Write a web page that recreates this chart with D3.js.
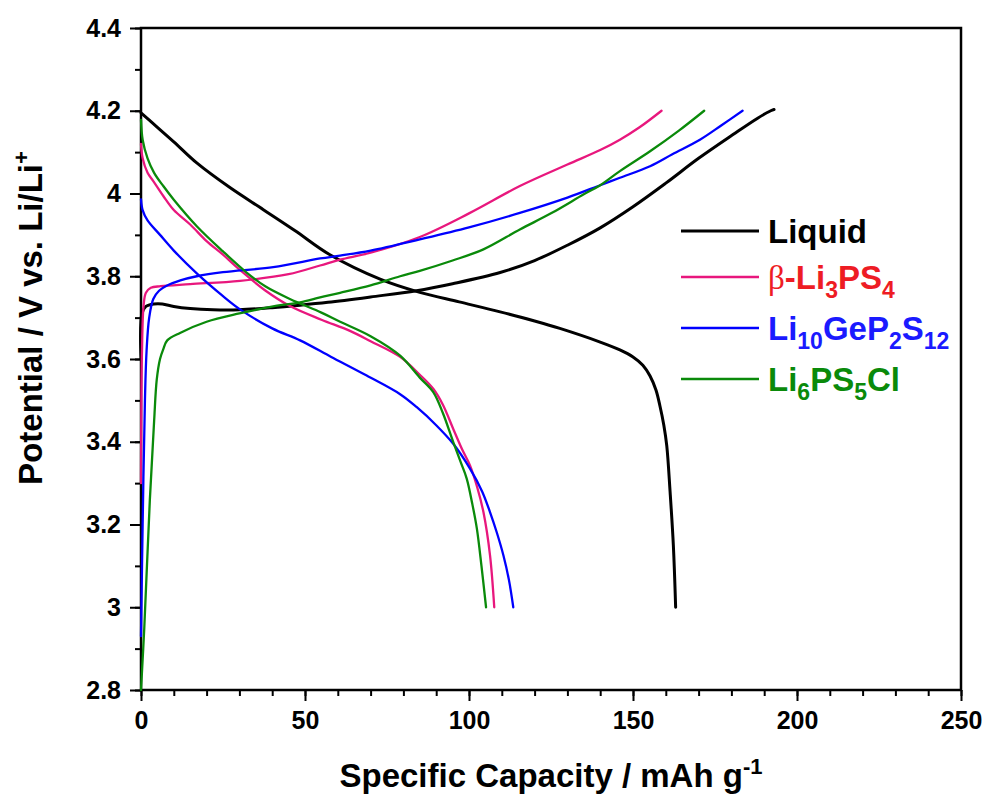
<!DOCTYPE html>
<html>
<head>
<meta charset="utf-8">
<script src="https://cdn.jsdelivr.net/npm/d3@7.9.0/dist/d3.min.js"></script>
<style>
  body { margin: 0; background: #fff; }
  svg { display: block; }
  text { font-family: Arial, "Liberation Sans", sans-serif; font-weight: bold; }
</style>
</head>
<body>
<svg id="chart" width="991" height="804"></svg>
<script>
// tick labels
const xTicks = [0, 50, 100, 150, 200, 250];
const yTicks = [2.8, 3.0, 3.2, 3.4, 3.6, 3.8, 4.0, 4.2, 4.4];

// Liquid electrolyte
const liquidChargeCap = [0, 0.3, 1.5, 4, 6.5, 10, 15, 22, 30, 40, 48.5, 57, 70, 84, 95, 109.5, 120, 130, 140, 150, 160, 170, 180.6, 188, 192, 193];
const liquidChargeV   = [3.60, 3.71, 3.727, 3.733, 3.733, 3.727, 3.722, 3.719, 3.719, 3.724, 3.730, 3.737, 3.750, 3.765, 3.782, 3.809, 3.838, 3.875, 3.917, 3.968, 4.025, 4.085, 4.143, 4.182, 4.200, 4.203];
const liquidDischCap  = [0, 5, 10, 17, 27, 37.3, 47, 57.6, 72.9, 85, 97, 109.5, 120, 127.7, 140, 146, 150, 153, 155.2, 157, 158.2, 159.4, 160.3, 161.3, 162.3, 163];
const liquidDischV    = [4.195, 4.16, 4.125, 4.074, 4.015, 3.961, 3.91, 3.852, 3.793, 3.761, 3.738, 3.714, 3.692, 3.674, 3.641, 3.622, 3.605, 3.585, 3.559, 3.525, 3.487, 3.44, 3.39, 3.28, 3.15, 3.0];

// beta-Li3PS4
const lpsChargeCap = [0, 0.3, 0.8, 1.5, 3, 6, 15, 30.2, 45, 54.6, 60.7, 70, 85, 100, 115.5, 130, 140, 146, 152, 158.7];
const lpsChargeV   = [3.30, 3.62, 3.73, 3.76, 3.772, 3.776, 3.781, 3.789, 3.805, 3.826, 3.840, 3.857, 3.895, 3.952, 4.018, 4.07, 4.105, 4.13, 4.16, 4.20];
const lpsDischCap  = [0, 0.5, 2, 3.75, 6.8, 10, 15, 20, 25, 30.2, 38, 45.4, 55, 63.7, 70, 79, 85, 89.1, 92, 95.2, 98, 100.3, 102.5, 104.4, 106.4, 107.7];
const lpsDischV    = [4.12, 4.085, 4.05, 4.03, 3.994, 3.96, 3.925, 3.885, 3.852, 3.815, 3.765, 3.728, 3.695, 3.668, 3.643, 3.605, 3.562, 3.528, 3.49, 3.431, 3.38, 3.343, 3.29, 3.23, 3.126, 3.0];

// Li10GeP2S12
const lgpsChargeCap = [0, 0.5, 1.2, 1.7, 2.5, 3.75, 5.5, 7.8, 12, 17, 25, 40.3, 54.6, 60.7, 70, 85, 100, 115.5, 130, 140, 146, 155.2, 162, 170.4, 177, 183.4];
const lgpsChargeV   = [2.93, 3.2, 3.5, 3.62, 3.70, 3.745, 3.765, 3.777, 3.79, 3.80, 3.81, 3.822, 3.843, 3.85, 3.862, 3.889, 3.918, 3.953, 3.99, 4.02, 4.038, 4.066, 4.095, 4.13, 4.165, 4.20];
const lgpsDischCap  = [0, 0.5, 2, 5.8, 10, 17, 25, 30.2, 40, 48.5, 58, 68.8, 79, 84, 90, 95.2, 100.3, 104, 106.4, 108.5, 110.5, 112.2, 113.5];
const lgpsDischV    = [3.986, 3.96, 3.935, 3.9, 3.862, 3.807, 3.752, 3.72, 3.674, 3.645, 3.605, 3.56, 3.515, 3.484, 3.44, 3.395, 3.335, 3.28, 3.23, 3.18, 3.125, 3.065, 3.0];

// Li6PS5Cl
const lpscChargeCap = [0, 1, 2.7, 4, 4.8, 5.8, 6.8, 8, 11.9, 20, 30, 40.3, 48.5, 54.6, 60.7, 70, 79, 85, 95, 104.4, 115.5, 125, 135, 140, 146, 155.2, 164, 171.7];
const lpscChargeV   = [2.80, 2.95, 3.26, 3.45, 3.55, 3.60, 3.624, 3.645, 3.663, 3.69, 3.71, 3.727, 3.737, 3.749, 3.76, 3.778, 3.80, 3.813, 3.838, 3.865, 3.913, 3.952, 3.998, 4.02, 4.054, 4.102, 4.152, 4.20];
const lpscDischCap  = [0, 0.5, 2, 4, 6.8, 10, 17, 25, 32.2, 38, 45.4, 55, 60.7, 70, 79, 85, 89.1, 92, 95.2, 97.5, 99.3, 101, 102.4, 103.8, 105.2];
const lpscDischV    = [4.178, 4.13, 4.085, 4.05, 4.018, 3.985, 3.921, 3.86, 3.809, 3.775, 3.745, 3.712, 3.69, 3.655, 3.608, 3.555, 3.52, 3.47, 3.399, 3.35, 3.311, 3.25, 3.19, 3.1, 3.0];

const seriesNames = ['Liquid', 'β-Li3PS4', 'Li10GeP2S12', 'Li6PS5Cl'];
const lineColors = ['#000000', '#e8177d', '#0000ff', '#0a8a0a'];
const labelColors = ['#000000', '#ee1c24', '#1a1aff', '#0a8a0a'];
const lineWidths = [3, 2.3, 2.3, 2.3];

// legend text pieces: [text, kind]
const legendParts = [
  [['Liquid', 'n']],
  [['β', 'g'], ['-Li', 'n'], ['3', 's'], ['PS', 'n'], ['4', 's']],
  [['Li', 'n'], ['10', 's'], ['GeP', 'n'], ['2', 's'], ['S', 'n'], ['12', 's']],
  [['Li', 'n'], ['6', 's'], ['PS', 'n'], ['5', 's'], ['Cl', 'n']]
];

const curves = [
  [[liquidChargeCap, liquidChargeV], [liquidDischCap, liquidDischV]],
  [[lpsChargeCap, lpsChargeV], [lpsDischCap, lpsDischV]],
  [[lgpsChargeCap, lgpsChargeV], [lgpsDischCap, lgpsDischV]],
  [[lpscChargeCap, lpscChargeV], [lpscDischCap, lpscDischV]]
];

const margin = { top: 28, right: 30, bottom: 114, left: 141 };
const width = 991 - margin.left - margin.right;
const height = 804 - margin.top - margin.bottom;

const svg = d3.select('#chart');
const g = svg.append('g').attr('transform', `translate(${margin.left},${margin.top})`);

const x = d3.scaleLinear().domain([0, 250]).range([0, width]);
const y = d3.scaleLinear().domain([2.8, 4.4]).range([height, 0]);

// minor ticks
g.append('g')
  .attr('transform', `translate(0,${height})`)
  .call(d3.axisBottom(x).tickValues(d3.range(0, 251, 10)).tickSize(6).tickFormat(''));
g.append('g')
  .call(d3.axisLeft(y).tickValues(d3.range(28, 45, 1).map((d) => d / 10)).tickSize(6).tickFormat(''));

// major ticks
g.append('g')
  .attr('transform', `translate(0,${height})`)
  .call(d3.axisBottom(x).tickValues(xTicks).tickSize(11).tickPadding(10).tickFormat(d3.format('d')));
g.append('g')
  .call(d3.axisLeft(y).tickValues(yTicks).tickSize(11).tickPadding(9).tickFormat((d) => String(+d.toFixed(1))));

g.selectAll('.domain').remove();
g.selectAll('.tick line').attr('stroke', '#000').attr('stroke-width', 2);
g.selectAll('.tick text').attr('font-size', 25).attr('fill', '#000')
  .style('font-family', 'Arial, "Liberation Sans", sans-serif').style('font-weight', 'bold');

// frame
g.append('rect')
  .attr('width', width)
  .attr('height', height)
  .attr('fill', 'none')
  .attr('stroke', '#000')
  .attr('stroke-width', 2.5);

// curves
const line = d3.line()
  .x((d) => x(d[0]))
  .y((d) => y(d[1]))
  .curve(d3.curveCatmullRom.alpha(0.5));

curves.forEach((pair, i) => {
  pair.forEach(([caps, volts]) => {
    g.append('path')
      .datum(caps.map((c, k) => [c, volts[k]]))
      .attr('d', line)
      .attr('fill', 'none')
      .attr('stroke', lineColors[i])
      .attr('stroke-width', lineWidths[i])
      .attr('stroke-linejoin', 'round')
      .attr('stroke-linecap', 'round');
  });
});

// legend
const legendY = [231, 277, 328, 379];
const legend = svg.append('g');
seriesNames.forEach((name, i) => {
  legend.append('line')
    .attr('x1', 681).attr('x2', 759)
    .attr('y1', legendY[i]).attr('y2', legendY[i])
    .attr('stroke', lineColors[i])
    .attr('stroke-width', lineWidths[i]);
  const t = legend.append('text')
    .attr('x', 768)
    .attr('y', legendY[i] + 12)
    .attr('font-size', 33)
    .attr('fill', labelColors[i]);
  let shifted = false;
  legendParts[i].forEach(([txt, kind]) => {
    const sp = t.append('tspan').text(txt);
    if (kind === 's') {
      sp.attr('font-size', 23).attr('dy', shifted ? 0 : 9);
      shifted = true;
    } else {
      if (shifted) sp.attr('dy', -9);
      shifted = false;
      if (kind === 'g') sp.style('font-family', '"Liberation Serif", "Times New Roman", serif').style('font-weight', 'normal');
    }
  });
});

// axis titles
const xt = svg.append('text')
  .attr('x', margin.left + width / 2)
  .attr('y', 787)
  .attr('text-anchor', 'middle')
  .attr('font-size', 33);
xt.append('tspan').text('Specific Capacity / mAh g');
xt.append('tspan').text('-1').attr('font-size', 22).attr('dy', -13);

const yt = svg.append('text')
  .attr('transform', 'translate(42,318) rotate(-90)')
  .attr('text-anchor', 'middle')
  .attr('font-size', 33);
yt.append('tspan').text('Potential / V vs. Li/Li');
yt.append('tspan').text('+').attr('font-size', 22).attr('dy', -13);
</script>
</body>
</html>
